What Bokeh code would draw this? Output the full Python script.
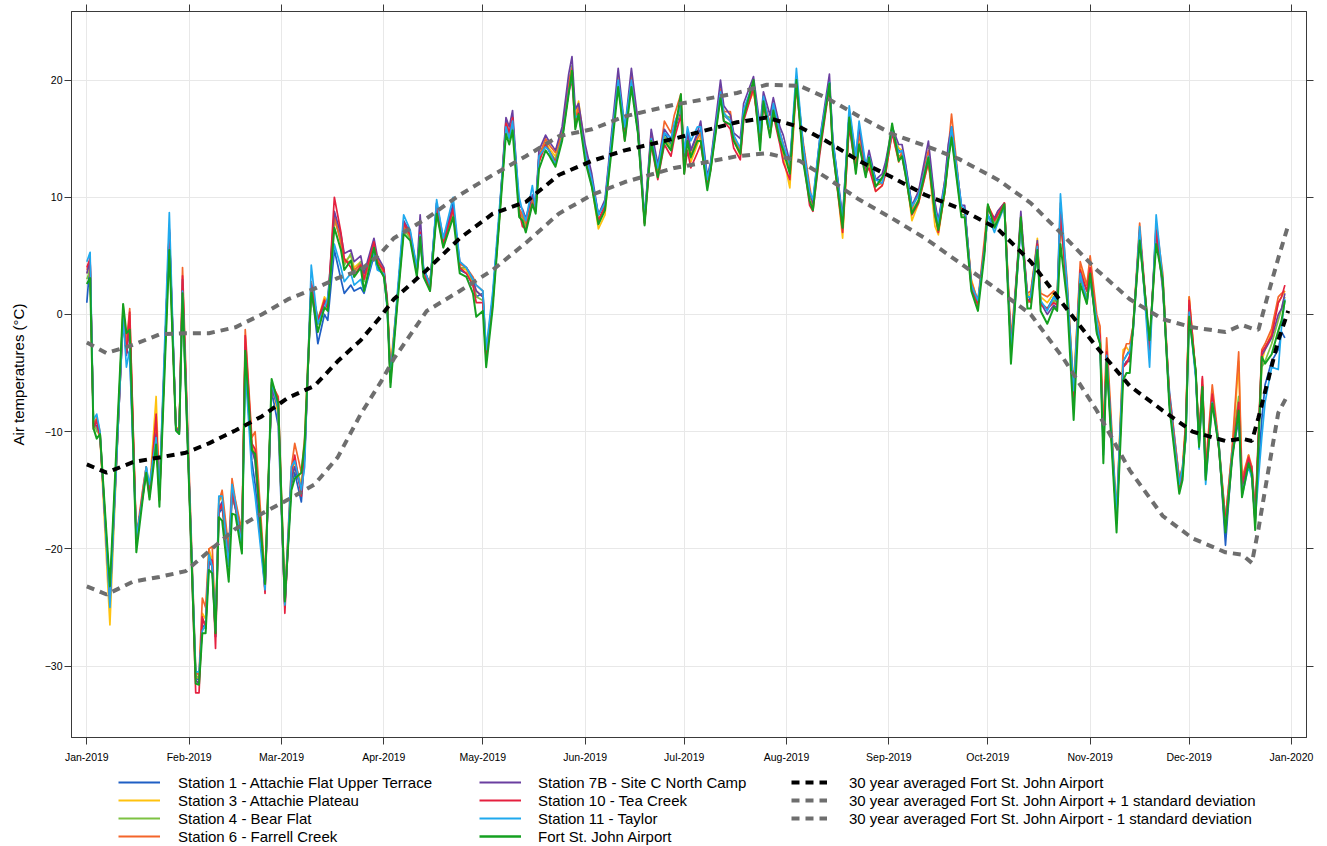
from bokeh.plotting import figure
from bokeh.layouts import column
from bokeh.models import FixedTicker, LinearAxis, Legend, LegendItem, Range1d
from bokeh.embed import file_html
from bokeh.resources import INLINE

# ---------------- data (day of year 2019, daily air temperature in deg C) ----------------
days = [0, 1, 2, 3, 4, 7, 11, 12, 13, 15, 17, 18, 19, 21, 22, 25, 27, 28, 29, 33,
        34, 35, 36, 37, 38, 39, 40, 41, 43, 44, 45, 47, 48, 50, 51, 54, 56, 58, 60, 62,
        63, 65, 66, 68, 70, 72, 73, 75, 77, 78, 80, 81, 83, 84, 87, 88, 90, 91, 92, 94,
        96, 98, 100, 101, 102, 104, 106, 108, 111, 113, 115, 117, 118, 120, 121, 123, 125, 127, 128, 129,
        131, 132, 133, 135, 136, 137, 139, 140, 142, 144, 146, 147, 148, 149, 151, 153, 155, 157, 159, 161,
        163, 165, 167, 169, 171, 173, 175, 177, 178, 180, 181, 182, 183, 185, 186, 188, 189, 192, 193, 195,
        196, 198, 199, 202, 204, 205, 207, 208, 210, 211, 213, 215, 217, 219, 220, 222, 225, 226, 229, 231,
        233, 234, 236, 237, 239, 241, 242, 244, 246, 247, 248, 250, 252, 255, 257, 258, 260, 261, 262, 265,
        266, 268, 270, 272, 273, 275, 276, 278, 280, 281, 283, 285, 286, 288, 289, 291, 293, 294, 295, 297,
        299, 301, 303, 304, 306, 307, 308, 309, 312, 314, 315, 316, 317, 319, 322, 324, 326, 328, 331, 332,
        333, 334, 336, 337, 338, 339, 341, 343, 345, 347, 349, 350, 352, 353, 354, 356, 357, 359, 361, 362, 363]

st1 = [1.0, 4.5, -9.5, -9.0, -10.5, -24.0, 0.2, -3.0, -3.5, -19.5, -15.0, -13.0, -15.5, -10.5, -15.5, 7.0, -9.8, -10.0, 1.5, -31.0,
       -31.2, -26.5, -26.8, -21.0, -21.5, -27.5, -17.0, -16.5, -21.0, -15.5, -16.5, -19.5, -4.0, -12.5, -14.5, -23.2, -6.5, -9.5, -24.8, -14.5,
       -13.5, -16.0, -12.0, 2.5, -2.5, 0.0, -0.5, 5.5, 3.0, 1.8, 2.5, 2.0, 2.3, 1.8, 5.0, 4.0, 3.3, 0.8, -5.0, 1.0,
       7.8, 6.5, 3.5, 6.0, 3.8, 2.5, 9.5, 6.0, 9.5, 3.8, 3.5, 2.5, 1.5, 1.8, -3.5, 1.5, 8.5, 16.0, 15.5, 16.5,
       9.0, 8.5, 7.8, 10.0, 9.0, 13.5, 14.5, 14.0, 13.0, 15.5, 19.5, 21.2, 16.5, 17.5, 14.0, 11.5, 8.5, 9.5, 15.0, 20.0,
       15.5, 20.0, 15.5, 7.8, 15.0, 12.5, 15.5, 14.5, 15.5, 17.5, 13.5, 15.5, 14.0, 15.3, 15.8, 11.5, 12.5, 18.8, 17.0, 16.5,
       15.2, 14.0, 17.2, 19.5, 15.0, 18.5, 16.0, 17.8, 15.5, 14.5, 12.5, 20.2, 14.5, 10.5, 9.5, 14.5, 19.8, 14.8, 8.0, 17.0,
       13.0, 15.0, 12.5, 13.5, 11.5, 11.5, 12.5, 15.5, 14.0, 13.8, 12.8, 9.2, 10.2, 13.0, 9.0, 8.0, 11.0, 13.5, 15.5, 9.0,
       9.0, 2.5, 1.0, 5.5, 8.5, 7.5, 8.5, 9.0, -3.0, 0.0, 7.5, 1.0, 1.5, 5.0, 1.0, 0.5, 1.5, 1.0, 9.0, 2.0,
       -7.0, 3.5, 2.0, 3.0, -1.0, -2.0, -11.0, -4.0, -17.5, -4.0, -3.5, -3.0, -1.5, 6.5, -3.0, 7.5, 2.0, -6.5, -14.0, -13.5,
       -10.5, 0.5, -5.0, -11.0, -6.0, -13.5, -7.0, -11.0, -19.7, -12.0, -9.0, -14.0, -12.5, -13.0, -17.0, -9.0, -6.0, -4.0, -3.0, -1.5, -2.0]

st3 = [3.5, 4.0, -9.0, -9.8, -10.5, -26.5, 0.8, -2.5, -1.0, -19.0, -15.5, -13.2, -15.0, -7.0, -15.0, 6.5, -9.6, -9.8, 2.0, -31.0,
       -31.0, -25.5, -26.0, -20.0, -21.0, -27.0, -16.0, -15.5, -20.5, -14.5, -16.0, -19.0, -2.5, -11.0, -12.0, -22.8, -6.0, -8.5, -24.5, -13.8,
       -12.5, -14.5, -11.5, 2.5, -0.5, 1.5, 1.0, 8.0, 6.5, 4.5, 5.0, 4.0, 4.5, 3.0, 6.0, 4.8, 3.8, 1.2, -4.5, 1.2,
       7.0, 6.8, 3.8, 6.5, 3.8, 2.7, 8.8, 6.0, 8.8, 4.0, 3.8, 2.5, 2.0, 1.5, -3.0, 1.5, 8.2, 16.2, 15.2, 16.5,
       8.8, 8.2, 7.5, 9.8, 8.8, 13.0, 14.8, 14.2, 13.5, 15.0, 19.5, 21.0, 17.0, 18.2, 14.0, 11.0, 7.3, 8.5, 14.8, 20.3,
       15.0, 20.5, 16.0, 7.8, 15.2, 12.0, 15.0, 14.0, 15.8, 17.8, 12.8, 15.0, 13.0, 14.5, 15.2, 11.3, 12.8, 19.3, 17.2, 16.5,
       15.0, 13.5, 17.0, 19.0, 15.5, 18.0, 16.0, 17.5, 14.8, 13.5, 10.8, 19.5, 14.0, 10.3, 9.5, 14.2, 19.5, 14.5, 6.5, 16.5,
       12.2, 14.8, 12.0, 13.0, 10.5, 11.0, 12.0, 15.5, 14.2, 14.0, 12.5, 8.0, 9.5, 13.0, 7.5, 6.8, 10.5, 13.5, 15.5, 8.8,
       8.8, 3.0, 1.0, 6.0, 9.0, 8.0, 8.5, 9.5, -2.5, 0.5, 7.8, 1.5, 1.8, 6.5, 1.5, 1.0, 1.8, 1.5, 8.5, 2.5,
       -6.0, 4.0, 2.5, 4.0, -0.5, -1.5, -10.5, -3.0, -17.0, -3.0, -2.8, -3.2, -1.0, 7.0, -3.5, 7.0, 2.5, -7.0, -14.5, -13.0,
       -9.0, 1.5, -5.0, -11.0, -6.0, -13.5, -6.5, -11.5, -18.0, -12.0, -4.0, -14.5, -12.0, -14.0, -17.5, -4.0, -3.0, -1.5, 1.0, 1.5, 2.0]

st4 = [3.0, 3.8, -9.0, -10.0, -10.0, -24.0, 0.5, -2.0, -0.5, -19.5, -15.2, -13.3, -15.3, -9.5, -15.8, 6.0, -9.8, -10.0, 2.2, -30.8,
       -31.0, -26.0, -26.5, -20.5, -21.3, -27.3, -16.5, -16.3, -21.5, -15.5, -16.4, -19.6, -3.0, -11.3, -12.5, -22.9, -6.0, -8.0, -24.3, -14.2,
       -13.0, -14.8, -11.8, 2.2, -0.3, 1.0, 0.8, 8.2, 6.3, 4.2, 5.2, 3.6, 4.5, 2.8, 5.8, 4.6, 3.6, 1.0, -5.5, 0.8,
       7.3, 6.5, 3.5, 6.8, 3.5, 2.2, 8.8, 5.8, 8.6, 4.0, 4.0, 2.8, 1.5, 1.2, -3.8, 1.0, 8.2, 16.0, 15.0, 16.3,
       8.6, 8.3, 7.6, 9.8, 9.0, 13.2, 14.6, 14.0, 13.2, 15.2, 19.5, 21.2, 16.3, 17.6, 13.6, 11.2, 7.8, 9.0, 14.5, 19.8,
       15.2, 20.0, 15.8, 7.8, 15.3, 12.2, 15.2, 14.3, 16.0, 18.0, 13.2, 15.2, 13.6, 15.0, 15.5, 11.2, 12.5, 19.0, 17.0, 16.8,
       15.2, 14.0, 17.0, 19.8, 15.2, 18.3, 16.2, 17.7, 15.2, 14.2, 12.3, 19.8, 14.2, 10.2, 9.3, 14.3, 19.8, 14.5, 7.3, 17.0,
       12.5, 14.6, 12.0, 13.2, 11.0, 11.5, 12.2, 15.8, 13.5, 13.6, 12.3, 8.8, 9.8, 13.2, 8.3, 7.3, 10.8, 13.3, 15.3, 8.5,
       8.5, 2.3, 0.8, 5.5, 9.2, 7.8, 8.2, 9.2, -3.2, 0.2, 8.0, 1.0, 1.2, 5.8, 0.8, 0.5, 1.2, 1.0, 8.0, 2.0,
       -7.5, 3.0, 1.5, 3.8, -1.2, -2.2, -11.5, -3.5, -17.8, -4.5, -4.0, -4.0, -1.2, 6.8, -2.8, 6.8, 2.5, -7.5, -14.8, -13.8,
       -10.0, 0.5, -5.2, -11.0, -6.0, -14.0, -7.0, -11.2, -17.5, -11.5, -7.0, -14.5, -12.5, -13.5, -17.8, -4.5, -4.0, -2.5, -0.5, 0.5, 1.5]

st6 = [3.8, 4.5, -9.5, -8.8, -10.0, -24.5, 0.0, -2.5, 0.5, -19.0, -14.8, -13.0, -15.0, -9.0, -15.0, 7.0, -9.6, -10.0, 4.0, -30.5,
       -30.8, -24.2, -25.0, -20.0, -19.8, -26.5, -16.0, -15.0, -20.0, -14.0, -15.8, -18.5, -1.3, -10.5, -10.0, -22.5, -6.0, -7.0, -24.0, -13.0,
       -11.0, -13.5, -10.5, 2.8, -0.8, 1.3, 0.5, 8.5, 6.0, 4.5, 4.5, 3.8, 4.3, 3.0, 6.0, 4.8, 3.5, 1.5, -5.0, 1.0,
       7.5, 6.7, 4.0, 7.0, 3.5, 2.8, 9.0, 6.2, 9.0, 4.3, 4.0, 3.2, 2.5, 2.0, -3.5, 1.5, 8.5, 16.5, 15.5, 16.5,
       9.0, 8.5, 7.8, 10.0, 9.2, 13.5, 15.0, 14.5, 13.8, 15.5, 19.8, 21.0, 16.5, 17.8, 14.0, 11.5, 8.0, 9.2, 14.8, 20.0,
       15.2, 20.3, 15.8, 8.0, 15.5, 12.3, 16.5, 15.5, 17.0, 18.8, 13.5, 15.0, 13.5, 15.0, 15.5, 11.0, 12.8, 19.2, 17.3, 17.3,
       15.0, 14.0, 17.3, 19.5, 15.5, 18.5, 16.3, 18.0, 15.5, 14.5, 12.5, 19.8, 14.8, 11.0, 9.2, 14.5, 19.5, 14.8, 7.8, 17.0,
       12.5, 15.5, 12.5, 13.0, 11.0, 11.2, 12.8, 15.5, 13.0, 14.0, 12.5, 9.0, 10.5, 14.0, 9.5, 7.0, 11.5, 14.0, 17.1, 9.0,
       9.0, 2.8, 1.2, 6.5, 9.3, 8.2, 8.8, 9.5, -2.0, 1.0, 8.0, 1.8, 2.0, 6.0, 1.8, 1.5, 2.0, 1.5, 9.5, 3.0,
       -6.5, 4.5, 2.5, 5.0, 0.0, -1.0, -10.0, -2.0, -17.0, -3.5, -2.5, -2.5, -1.0, 7.8, -3.0, 7.8, 3.5, -7.0, -14.0, -13.0,
       -9.0, 1.5, -5.0, -10.5, -5.5, -13.0, -6.0, -11.0, -17.5, -11.5, -3.2, -14.0, -12.0, -13.0, -17.0, -3.0, -2.5, -1.2, 1.5, 1.8, 2.0]

st7b = [3.5, 4.6, -9.3, -9.5, -10.3, -24.2, -0.5, -3.5, -1.0, -19.3, -15.3, -13.4, -15.4, -10.2, -15.8, 7.2, -9.7, -9.9, 3.0, -31.2,
        -31.5, -26.0, -26.5, -21.0, -21.5, -27.5, -16.5, -16.0, -21.0, -15.0, -16.5, -19.0, -2.8, -11.5, -12.5, -23.5, -6.3, -8.0, -25.0, -14.0,
        -13.0, -15.0, -12.0, 2.5, -0.8, 1.0, 1.2, 8.8, 6.8, 5.2, 5.5, 4.5, 5.0, 3.5, 6.5, 5.0, 4.0, 1.3, -5.5, 0.9,
        8.0, 7.0, 3.8, 8.5, 4.0, 2.5, 9.5, 6.5, 9.2, 4.5, 4.0, 3.0, 2.0, 1.5, -3.8, 1.3, 8.5, 16.8, 16.0, 17.4,
        9.3, 9.0, 8.2, 10.2, 9.3, 14.0, 15.3, 14.8, 14.0, 16.0, 20.5, 22.0, 17.5, 18.0, 14.5, 12.0, 8.5, 9.8, 15.5, 21.0,
        15.8, 21.0, 16.5, 8.2, 15.8, 12.8, 15.8, 15.0, 16.0, 18.0, 13.5, 15.5, 14.0, 15.5, 16.5, 11.8, 13.0, 20.0, 17.8, 17.0,
        15.5, 15.0, 18.0, 20.3, 16.0, 19.0, 17.0, 18.5, 16.0, 15.3, 13.0, 19.8, 14.5, 10.5, 9.5, 14.8, 20.5, 15.0, 8.3, 17.2,
        13.5, 16.0, 12.5, 14.0, 11.5, 12.0, 13.0, 16.0, 14.5, 14.5, 13.0, 9.3, 10.5, 14.8, 9.5, 8.0, 11.5, 14.5, 16.0, 9.3,
        9.3, 2.5, 1.0, 5.8, 9.0, 8.2, 8.8, 9.5, -2.8, 0.5, 8.8, 1.5, 1.5, 6.3, 1.0, 0.0, 0.8, 0.5, 9.0, 2.3,
        -7.5, 3.5, 1.0, 3.5, -1.5, -2.5, -11.5, -3.5, -17.5, -4.5, -4.0, -4.0, -1.0, 7.0, -2.5, 7.0, 2.5, -7.5, -14.5, -13.5,
        -9.5, 0.8, -5.2, -11.2, -6.2, -13.8, -7.2, -11.5, -18.5, -12.2, -8.5, -14.8, -12.5, -13.8, -17.8, -3.5, -3.0, -2.0, 0.0, 0.5, 1.8]

st10 = [4.0, 4.8, -9.8, -9.0, -10.4, -24.5, -0.3, -3.3, 0.2, -19.2, -15.4, -13.5, -15.6, -8.5, -15.9, 7.3, -9.8, -10.1, 3.3, -32.3,
        -32.3, -25.8, -26.8, -20.8, -21.0, -28.5, -16.8, -16.2, -21.3, -15.2, -16.3, -19.3, -1.8, -11.0, -11.5, -23.8, -5.8, -7.2, -25.5, -13.5,
        -12.0, -15.5, -12.2, 2.6, -0.5, 1.2, 0.5, 10.0, 7.0, 4.8, 4.0, 3.3, 4.2, 3.0, 6.2, 4.5, 3.8, 1.0, -5.8, 1.1,
        7.8, 6.8, 3.6, 7.0, 3.8, 2.0, 9.0, 6.0, 9.0, 4.0, 3.5, 2.5, 1.0, 1.0, -4.0, 1.0, 8.3, 16.3, 15.5, 16.8,
        8.8, 7.5, 7.3, 9.5, 8.8, 13.0, 14.5, 14.0, 13.0, 15.0, 19.0, 20.0, 16.0, 17.2, 13.5, 11.0, 8.0, 9.3, 14.8, 19.8,
        14.8, 20.0, 15.6, 7.7, 14.5, 11.5, 14.5, 13.5, 15.0, 17.0, 12.0, 14.0, 12.5, 13.8, 14.5, 11.0, 12.3, 18.8, 16.5, 15.8,
        14.2, 13.2, 16.5, 19.3, 14.5, 17.8, 15.3, 17.0, 14.5, 13.0, 11.5, 19.6, 13.5, 9.3, 8.8, 13.5, 19.5, 14.0, 7.0, 16.0,
        12.3, 14.5, 12.0, 12.5, 10.5, 11.0, 12.0, 15.5, 13.2, 13.5, 12.0, 8.5, 9.5, 13.0, 8.5, 7.0, 10.5, 13.3, 15.3, 8.8,
        8.8, 2.2, 0.8, 5.6, 9.3, 8.0, 8.5, 9.5, -3.0, 0.3, 8.3, 1.3, 1.0, 6.0, 0.8, 0.5, 1.0, 0.8, 8.5, 2.0,
        -7.0, 3.8, 2.0, 4.0, -0.8, -1.8, -11.2, -3.2, -17.8, -4.5, -4.2, -3.5, -1.3, 7.2, -3.0, 7.2, 3.0, -7.0, -14.8, -13.5,
        -9.5, 1.2, -5.0, -10.8, -5.3, -13.5, -6.8, -11.3, -17.8, -12.0, -7.5, -14.5, -12.2, -13.2, -17.5, -3.2, -2.8, -1.8, 1.0, 1.5, 2.5]

st11 = [4.5, 5.3, -9.0, -8.5, -10.0, -25.0, -0.2, -4.5, -3.0, -19.0, -15.5, -13.0, -14.5, -10.5, -15.0, 8.7, -9.9, -10.2, 2.0, -30.5,
        -30.5, -27.0, -26.5, -20.5, -21.5, -27.0, -15.5, -15.5, -21.5, -14.5, -16.0, -19.8, -4.5, -13.5, -15.5, -23.5, -5.8, -8.0, -24.8, -13.0,
        -12.5, -15.0, -13.0, 4.2, -0.8, 0.5, 1.5, 6.0, 4.0, 2.8, 3.5, 2.5, 3.0, 2.0, 5.3, 3.8, 3.5, 0.5, -5.5, 1.5,
        8.5, 7.2, 4.0, 6.8, 4.0, 2.5, 9.8, 6.5, 10.0, 4.5, 4.0, 3.0, 2.5, 2.0, -3.0, 2.0, 9.0, 16.0, 15.0, 16.5,
        10.0, 8.8, 8.0, 11.0, 9.0, 13.5, 14.3, 14.0, 12.8, 15.0, 19.0, 20.3, 16.8, 17.0, 13.8, 11.5, 8.5, 9.5, 15.0, 20.0,
        16.0, 20.0, 15.5, 8.2, 15.0, 12.5, 15.5, 15.0, 16.3, 17.8, 13.8, 16.0, 14.8, 16.0, 16.0, 11.5, 12.8, 19.0, 17.2, 16.5,
        15.3, 14.2, 17.5, 19.8, 15.5, 18.6, 16.0, 18.0, 15.5, 14.5, 12.8, 21.0, 14.5, 10.5, 9.8, 14.8, 19.8, 15.0, 8.0, 17.8,
        13.5, 16.5, 12.8, 13.5, 11.5, 11.2, 12.5, 15.8, 13.8, 14.0, 12.5, 9.2, 10.2, 13.5, 9.0, 7.8, 11.2, 13.5, 16.0, 9.3,
        9.0, 2.5, 1.2, 5.5, 8.5, 7.0, 7.8, 9.2, -3.0, 0.5, 7.5, 1.5, 1.5, 5.8, 1.2, 0.3, 1.5, 1.2, 10.3, 2.5,
        -6.5, 3.5, 1.0, 3.0, -0.5, -2.5, -12.0, -3.5, -17.0, -4.0, -3.5, -3.2, -1.5, 7.5, -4.5, 8.5, 3.0, -7.5, -14.5, -13.0,
        -10.5, 0.2, -5.5, -11.5, -6.5, -14.5, -7.5, -11.0, -18.5, -12.0, -8.5, -15.5, -13.0, -14.0, -17.5, -10.5, -7.5, -4.5, -4.7, -1.0, 1.3]

fsj = [2.6, 3.1, -9.7, -10.6, -10.2, -23.2, 0.9, -1.6, -1.3, -20.3, -15.6, -13.5, -15.8, -11.1, -16.4, 5.5, -9.9, -10.2, 1.8, -31.5,
       -31.6, -27.2, -27.2, -21.8, -22.1, -27.2, -17.3, -17.6, -22.8, -17.0, -17.1, -20.4, -3.1, -11.6, -11.9, -23.0, -5.5, -7.6, -24.5, -15.0,
       -14.0, -13.5, -11.0, 2.0, -1.5, 0.6, 0.3, 7.4, 5.5, 3.8, 4.6, 3.2, 4.0, 2.0, 5.7, 4.3, 3.2, 0.9, -6.2, 0.6,
       6.9, 6.3, 3.2, 6.6, 3.2, 2.0, 8.6, 5.7, 8.3, 3.5, 3.2, 1.8, -0.2, 0.3, -4.5, 0.6, 8.0, 15.4, 14.5, 15.7,
       8.3, 8.0, 7.0, 9.4, 8.6, 12.4, 14.0, 13.6, 12.6, 14.8, 18.8, 20.8, 15.8, 17.1, 13.1, 10.9, 7.7, 8.9, 14.0, 19.4,
       14.8, 19.4, 15.4, 7.6, 14.8, 11.7, 14.8, 14.0, 15.4, 18.8, 12.0, 14.8, 13.4, 14.8, 14.8, 10.6, 12.3, 18.5, 16.5, 16.2,
       14.8, 13.7, 16.8, 20.0, 14.0, 18.2, 15.1, 17.4, 14.8, 14.0, 12.0, 20.0, 13.1, 9.7, 8.9, 14.0, 19.7, 14.0, 7.4, 16.8,
       12.0, 14.5, 11.7, 13.4, 10.9, 11.7, 12.3, 16.3, 13.1, 13.5, 12.0, 8.6, 9.7, 13.4, 8.6, 7.2, 10.6, 13.1, 15.1, 8.3,
       8.3, 2.0, 0.3, 5.2, 9.4, 7.4, 8.0, 9.4, -4.2, -0.2, 8.3, 0.5, 0.5, 5.5, 0.3, -0.8, 0.6, 0.3, 6.0, 1.2,
       -9.0, 2.6, 0.9, 3.5, -1.6, -2.5, -12.7, -3.9, -18.6, -5.6, -5.0, -5.0, -1.1, 6.3, -2.2, 6.0, 2.9, -7.9, -15.3, -14.1,
       -9.9, -0.2, -4.8, -11.3, -6.2, -14.1, -7.6, -11.3, -18.6, -12.4, -8.2, -15.6, -12.7, -13.6, -18.4, -3.6, -4.2, -3.4, -1.4, -0.5, 1.2]

# 30-year climate normals at Fort St. John Airport
clim_days = [0, 6, 14, 22, 30, 37, 45, 53, 61, 69, 76, 83, 89, 93, 103, 113, 123, 133, 143, 153, 163, 178, 186,
             197, 206, 216, 224, 234, 244, 254, 264, 276, 286, 296, 306, 316, 326, 335, 345, 350, 353, 355, 358, 361, 364]
clim_avg = [-12.8, -13.5, -12.6, -12.2, -11.8, -11.0, -9.9, -8.7, -7.1, -6.1, -4.0, -2.2, -0.2, 1.3, 3.8, 6.5, 8.6, 9.6, 11.9, 13.1, 14.0, 15.0, 15.6,
            16.4, 16.8, 16.0, 14.8, 13.1, 11.7, 10.2, 9.1, 7.3, 4.5, 0.8, -2.8, -6.1, -8.2, -10.0, -10.8, -10.6, -10.8, -8.8, -5.5, -2.2, 0.3]
clim_plus = [-2.4, -3.3, -2.6, -1.7, -1.6, -1.6, -1.1, 0.0, 1.3, 2.2, 3.1, 3.8, 5.2, 6.5, 8.2, 10.2, 11.9, 13.5, 15.2, 15.8, 16.9, 17.9, 18.3,
             18.9, 19.6, 19.5, 18.5, 16.9, 15.4, 14.4, 13.3, 11.5, 9.5, 6.7, 3.8, 1.3, -0.4, -1.1, -1.5, -0.9, -1.2, -1.3, 1.8, 4.8, 7.6]
clim_minus = [-23.2, -23.9, -22.8, -22.4, -21.9, -20.2, -18.3, -17.0, -15.8, -14.5, -12.2, -8.5, -5.8, -3.8, 0.3, 2.0, 3.8, 6.1, 8.6, 10.2, 11.3, 12.5, 12.9,
              13.5, 13.75, 13.1, 11.7, 9.8, 8.2, 6.5, 4.5, 2.1, 0.0, -3.8, -8.2, -13.3, -17.2, -19.1, -20.3, -20.5, -21.2, -18.3, -13.3, -8.4, -6.8]

station_labels = ["Station 1 - Attachie Flat Upper Terrace", "Station 3 - Attachie Plateau",
                  "Station 4 - Bear Flat", "Station 6 - Farrell Creek",
                  "Station 7B - Site C North Camp", "Station 10 - Tea Creek",
                  "Station 11 - Taylor", "Fort St. John Airport"]
clim_labels = ["30 year averaged Fort St. John Airport",
               "30 year averaged Fort St. John Airport + 1 standard deviation",
               "30 year averaged Fort St. John Airport - 1 standard deviation"]

month_days = [0, 31, 59, 90, 120, 151, 181, 212, 243, 273, 304, 334, 365]
month_labels = ["Jan-2019", "Feb-2019", "Mar-2019", "Apr-2019", "May-2019", "Jun-2019", "Jul-2019",
                "Aug-2019", "Sep-2019", "Oct-2019", "Nov-2019", "Dec-2019", "Jan-2020"]
y_ticks = [-30, -20, -10, 0, 10, 20]

series = [st1, st3, st4, st6, st7b, st10, st11, fsj]
clim_series = [clim_avg, clim_plus, clim_minus]
for s in series:
    assert len(s) == len(days), (len(s), len(days))
assert len(clim_avg) == len(clim_plus) == len(clim_minus) == len(clim_days)

# ---------------- styling ----------------
FONT = "Liberation Sans"
AX = "#3a3a3a"
colors = ["#1f5fc4", "#ffc20e", "#7dc242", "#f4652a", "#6a3fa0", "#e5203f", "#1fa9ee", "#14a020"]
widths = [1.7, 1.7, 1.7, 1.7, 1.7, 1.7, 1.7, 2.0]
clim_colors = ["black", "#6e6e6e", "#6e6e6e"]
DASH = "8 6"

p = figure(width=1327, height=770,
           x_range=Range1d(-4.64, 369.55), y_range=Range1d(-36.1, 25.85),
           output_backend="svg", toolbar_location=None,
           min_border_left=71, min_border_right=21, min_border_top=11, min_border_bottom=33)
p.background_fill_color = "white"
p.border_fill_color = "white"
p.outline_line_color = AX
p.outline_line_width = 1

# bottom axis (months)
xa = p.xaxis[0]
xa.ticker = FixedTicker(ticks=month_days)
xa.major_label_overrides = {d: l for d, l in zip(month_days, month_labels)}
xa.major_label_text_font = FONT
xa.major_label_text_font_size = "10.5px"
xa.major_label_text_color = "black"
xa.major_tick_out = 7
xa.major_tick_in = 0
xa.minor_tick_out = 0
xa.minor_tick_in = 0
xa.axis_line_color = AX
xa.major_tick_line_color = AX
xa.major_label_standoff = 6

# left axis
ya = p.yaxis[0]
ya.ticker = FixedTicker(ticks=y_ticks)
ya.major_label_text_font = FONT
ya.major_label_text_font_size = "10.5px"
ya.major_label_text_color = "black"
ya.major_label_orientation = "horizontal"
ya.major_tick_out = 7
ya.major_tick_in = 0
ya.minor_tick_out = 0
ya.minor_tick_in = 0
ya.major_label_standoff = 2
ya.axis_line_color = AX
ya.major_tick_line_color = AX
ya.axis_label = "Air temperatures (\u00b0C)"
ya.axis_label_text_font = FONT
ya.axis_label_text_font_size = "15px"
ya.axis_label_text_font_style = "normal"
ya.axis_label_text_color = "black"
ya.axis_label_standoff = 15

# right axis (ticks only, labels not drawn)
ra = LinearAxis(ticker=FixedTicker(ticks=y_ticks), major_label_text_color=None,
                major_label_text_font_size="1px",
                major_tick_out=7, major_tick_in=0, minor_tick_out=0, minor_tick_in=0,
                major_label_standoff=0, axis_line_color=AX, major_tick_line_color=AX)
p.add_layout(ra, "right")

# top axis (ticks only, labels not drawn)
ta = LinearAxis(ticker=FixedTicker(ticks=month_days), major_label_text_color=None,
                major_label_text_font_size="1px",
                major_tick_out=7, major_tick_in=0, minor_tick_out=0, minor_tick_in=0,
                major_label_standoff=0, axis_line_color=AX, major_tick_line_color=AX)
p.add_layout(ta, "above")

p.xgrid.ticker = FixedTicker(ticks=month_days)
p.ygrid.ticker = FixedTicker(ticks=y_ticks)
p.xgrid.grid_line_color = "#e8e8e8"
p.ygrid.grid_line_color = "#e8e8e8"

for s, c, w in zip(series, colors, widths):
    p.line(days, s, line_color=c, line_width=w, line_join="round")

for vals, c in zip(clim_series, clim_colors):
    p.line(clim_days, vals, line_color=c, line_width=4, line_dash=DASH)

# ---------------- legend panel below the plot ----------------
# The key renderers carry the same series; the panel's ranges keep them out of view,
# so only their legend swatches are drawn.
lf = figure(width=1327, height=76, x_range=Range1d(1000, 1001), y_range=Range1d(1000, 1001),
            output_backend="svg", toolbar_location=None,
            x_axis_location=None, y_axis_location=None, min_border=0)
lf.grid.visible = False
lf.outline_line_color = None
lf.background_fill_color = "white"
lf.border_fill_color = "white"

key_station = [lf.line(days, s, line_color=c, line_width=w + 0.3) for s, c, w in zip(series, colors, widths)]
key_clim = [lf.line(clim_days, v, line_color=c, line_width=4, line_dash=DASH) for v, c in zip(clim_series, clim_colors)]


def make_legend(items, x, y, glyph_w, standoff):
    return Legend(items=items, location=(x, y), orientation="vertical",
                  glyph_width=glyph_w, glyph_height=18, label_height=18, spacing=0,
                  padding=0, margin=0, label_standoff=standoff,
                  label_text_font=FONT, label_text_font_size="15px", label_text_color="black",
                  border_line_color=None, background_fill_alpha=0)


# legend x positions are measured from the plot frame's left edge (x = 71 px)
leg1 = make_legend([LegendItem(label=station_labels[i], renderers=[key_station[i]]) for i in range(4)],
                   47, 1, 42, 18)
leg2 = make_legend([LegendItem(label=station_labels[i], renderers=[key_station[i]]) for i in range(4, 8)],
                   408, 1, 42, 17)
leg3 = make_legend([LegendItem(label=clim_labels[i], renderers=[key_clim[i]]) for i in range(3)],
                   720, 19, 36, 22)
for lg in (leg1, leg2, leg3):
    lf.add_layout(lg)

layout = column(p, lf)
open("out.html", "w").write(file_html(layout, INLINE))
